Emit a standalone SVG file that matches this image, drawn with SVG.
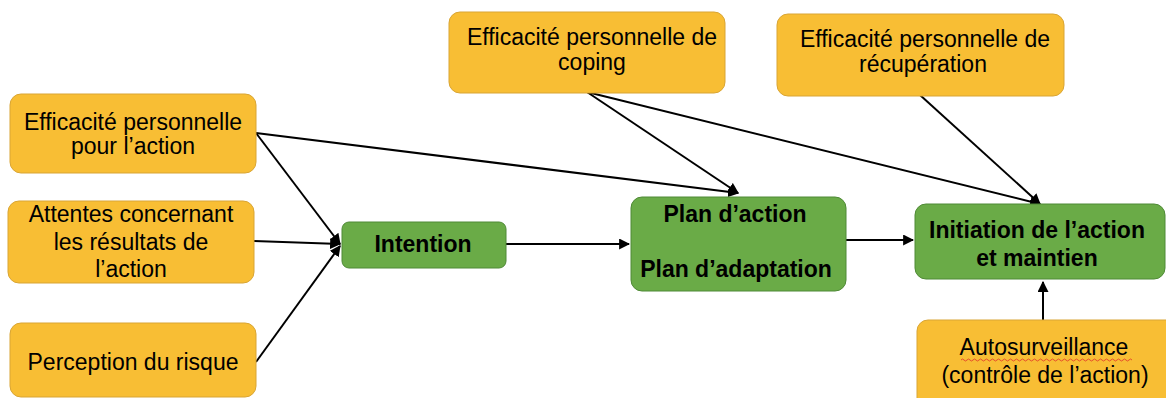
<svg xmlns="http://www.w3.org/2000/svg" width="1166" height="398" viewBox="0 0 1166 398">
<defs>
<marker id="ah" viewBox="0 0 10 10" refX="9" refY="5" markerWidth="5.5" markerHeight="5.5" orient="auto" markerUnits="strokeWidth">
<path d="M0,0 L10,5 L0,10 z" fill="#000"/>
</marker>
<style>
.o{fill:#F8BE34;stroke:#D9A534;stroke-width:1}
.g{fill:#6AAB47;stroke:#4F8A36;stroke-width:1}
.t{font-family:"Liberation Sans",Arial,sans-serif;font-size:23px;fill:#000;text-anchor:middle}
.b{font-weight:bold}
.c{stroke:#000;stroke-width:2;fill:none;marker-end:url(#ah)}
</style>
</defs>
<rect width="1166" height="398" fill="#fff"/>
<g id="connectors">
<line class="c" x1="256" y1="133" x2="340" y2="244"/>
<line class="c" x1="254" y1="241" x2="340" y2="244"/>
<line class="c" x1="256" y1="362" x2="340" y2="246"/>
<line class="c" x1="256" y1="133" x2="738" y2="193"/>
<line class="c" x1="587" y1="92" x2="738" y2="193"/>
<line class="c" x1="587" y1="92" x2="1040" y2="204"/>
<line class="c" x1="920" y1="95" x2="1040" y2="204"/>
<line class="c" x1="506" y1="244" x2="629" y2="244"/>
<line class="c" x1="846" y1="240" x2="913" y2="240"/>
<line class="c" x1="1043" y1="320" x2="1043" y2="282"/>
</g>
<g id="n-efficacite-action">
<rect class="o" x="10" y="94" width="246" height="79" rx="11"/>
<text class="t" x="133" y="130">Efficacité personnelle</text>
<text class="t" x="133" y="154">pour l’action</text>
</g>
<g id="n-attentes">
<rect class="o" x="8" y="201" width="246" height="82" rx="11"/>
<text class="t" x="131" y="222">Attentes concernant</text>
<text class="t" x="131" y="250">les résultats de</text>
<text class="t" x="131" y="277">l’action</text>
</g>
<g id="n-risque">
<rect class="o" x="10" y="323" width="246" height="74" rx="11"/>
<text class="t" x="133" y="370">Perception du risque</text>
</g>
<g id="n-coping">
<rect class="o" x="449" y="12" width="276" height="81" rx="11"/>
<text class="t" x="592" y="45">Efficacité personnelle de</text>
<text class="t" x="592" y="70">coping</text>
</g>
<g id="n-recuperation">
<rect class="o" x="777" y="14" width="287" height="82" rx="11"/>
<text class="t" x="925" y="47">Efficacité personnelle de</text>
<text class="t" x="923" y="72">récupération</text>
</g>
<g id="n-intention">
<rect class="g" x="342" y="222" width="164" height="46" rx="7"/>
<text class="t b" x="423" y="252">Intention</text>
</g>
<g id="n-plan">
<rect class="g" x="631" y="197" width="215" height="94" rx="11"/>
<text class="t b" x="735" y="222">Plan d’action</text>
<text class="t b" x="736" y="277">Plan d’adaptation</text>
</g>
<g id="n-initiation">
<rect class="g" x="915" y="204" width="250" height="75" rx="11"/>
<text class="t b" x="1037" y="238">Initiation de l’action</text>
<text class="t b" x="1037" y="266">et maintien</text>
</g>
<g id="n-autosurveillance">
<rect class="o" x="917" y="320" width="260" height="90" rx="11"/>
<text class="t" x="1044" y="355">Autosurveillance</text>
<path d="M961,360 q1.5,-2 3,0 t3,0 t3,0 t3,0 t3,0 t3,0 t3,0 t3,0 t3,0 t3,0 t3,0 t3,0 t3,0 t3,0 t3,0 t3,0 t3,0 t3,0 t3,0 t3,0 t3,0 t3,0 t3,0 t3,0 t3,0 t3,0 t3,0 t3,0 t3,0 t3,0 t3,0 t3,0 t3,0 t3,0 t3,0 t3,0 t3,0 t3,0 t3,0 t3,0 t3,0 t3,0 t3,0 t3,0 t3,0 t3,0 t3,0 t3,0 t3,0 t3,0 t3,0 t3,0 t3,0 t3,0 t3,0 t3,0 t3,0" fill="none" stroke="#E0302A" stroke-width="0.8"/>
<text class="t" x="1045" y="383">(contrôle de l’action)</text>
</g>
</svg>
